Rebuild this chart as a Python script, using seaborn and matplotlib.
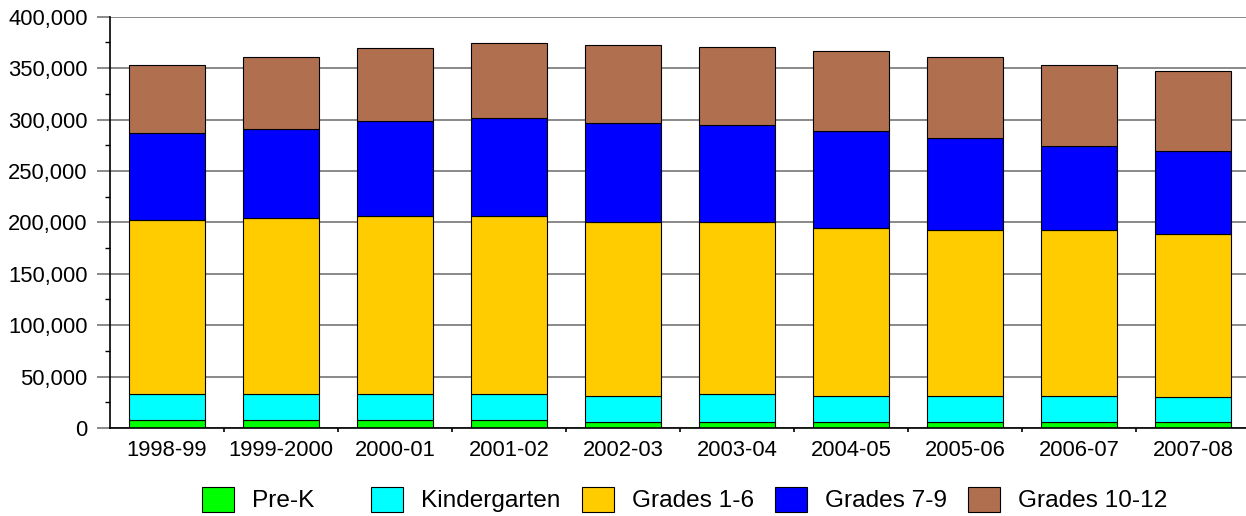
import numpy as np
import pandas as pd
import matplotlib
matplotlib.use("Agg")
import matplotlib.pyplot as plt
import seaborn as sns
from matplotlib.patches import Patch
from matplotlib.ticker import FuncFormatter, MultipleLocator, FixedLocator

# school years on the x axis
years = ["1998-99", "1999-2000", "2000-01", "2001-02", "2002-03",
         "2003-04", "2004-05", "2005-06", "2006-07", "2007-08"]

# enrolment by grade group
pre_k = [8100, 8100, 8100, 8100, 6200, 6200, 6200, 6200, 6200, 6200]
kindergarten = [25000, 25000, 25000, 25000, 25000, 26900, 25000, 25000, 25000, 23700]
grades_1_6 = [168900, 170800, 172700, 172700, 168800, 166900, 163000, 161300, 161300, 158400]
grades_7_9 = [85300, 87300, 93200, 95500, 96800, 95100, 95100, 89300, 81500, 81500]
grades_10_12 = [65900, 69800, 70200, 73400, 75900, 75700, 77300, 79200, 79200, 77600]

groups = ["Pre-K", "Kindergarten", "Grades 1-6", "Grades 7-9", "Grades 10-12"]
colors = ["#00FF00", "#00FFFF", "#FFCC00", "#0000FF", "#B07050"]

df = pd.DataFrame({
    "year": years,
    "Pre-K": pre_k,
    "Kindergarten": kindergarten,
    "Grades 1-6": grades_1_6,
    "Grades 7-9": grades_7_9,
    "Grades 10-12": grades_10_12,
})

sns.set_style("white")
plt.rcParams["font.family"] = ["Liberation Sans", "DejaVu Sans"]
plt.rcParams["text.color"] = "black"
fs = 15.8
leg_fs = 17.6

W, H = 1246, 516
fig = plt.figure(figsize=(W / 100, H / 100), dpi=100)
ax = fig.add_axes([110 / W, 88 / H, 1140 / W, 411.3 / H])

# stacked bars, one layer per grade group
bottom = np.zeros(len(df))
for name, col in zip(groups, colors):
    sns.barplot(data=df, x="year", y=name, color=col, saturation=1, bottom=bottom,
                width=0.667, edgecolor="black", linewidth=0.8, errorbar=None,
                ax=ax, zorder=3)
    bottom += df[name].to_numpy()

ax.set_xlabel("")
ax.set_ylabel("")
ax.set_xlim(-0.5, 9.5)
ax.set_ylim(0, 400000)

ax.yaxis.set_major_locator(MultipleLocator(50000))
ax.yaxis.set_minor_locator(MultipleLocator(25000))
ax.yaxis.set_major_formatter(FuncFormatter(lambda v, p: f"{v:,.0f}"))
ax.xaxis.set_minor_locator(FixedLocator(np.arange(0.5, 9, 1)))

ax.yaxis.grid(True, which="major", color="#808080", linewidth=1.3, zorder=0)
ax.xaxis.grid(False)
ax.set_axisbelow(True)

for s in ["top", "right"]:
    ax.spines[s].set_visible(False)
for s in ["left", "bottom"]:
    ax.spines[s].set_color("black")
    ax.spines[s].set_linewidth(1.2)
    ax.spines[s].set_zorder(4)

ax.tick_params(axis="y", which="major", direction="out", length=9.5, width=1.3,
               color="#808080", pad=6.5, labelsize=fs, labelcolor="black", left=True)
ax.tick_params(axis="y", which="minor", direction="out", length=3.8, width=1,
               color="black", left=True)
ax.tick_params(axis="x", which="major", length=0, pad=9, labelsize=fs,
               labelcolor="black", bottom=True)
ax.tick_params(axis="x", which="minor", direction="out", length=3, width=1.2,
               color="black", bottom=True)

handles = [Patch(facecolor=c, edgecolor="black", linewidth=0.8) for c in colors]
leg_kw = dict(loc="center left", frameon=False, fontsize=leg_fs, borderpad=0,
              borderaxespad=0, handlelength=1.31, handleheight=1.19,
              handletextpad=0.74, columnspacing=0.86, labelcolor="black")
fig.legend(handles[:1], groups[:1], bbox_to_anchor=(202 / W, 0.032), ncol=1, **leg_kw)
fig.legend(handles[1:], groups[1:], bbox_to_anchor=(371 / W, 0.032), ncol=4, **leg_kw)

fig.savefig("out.png", dpi=100)
